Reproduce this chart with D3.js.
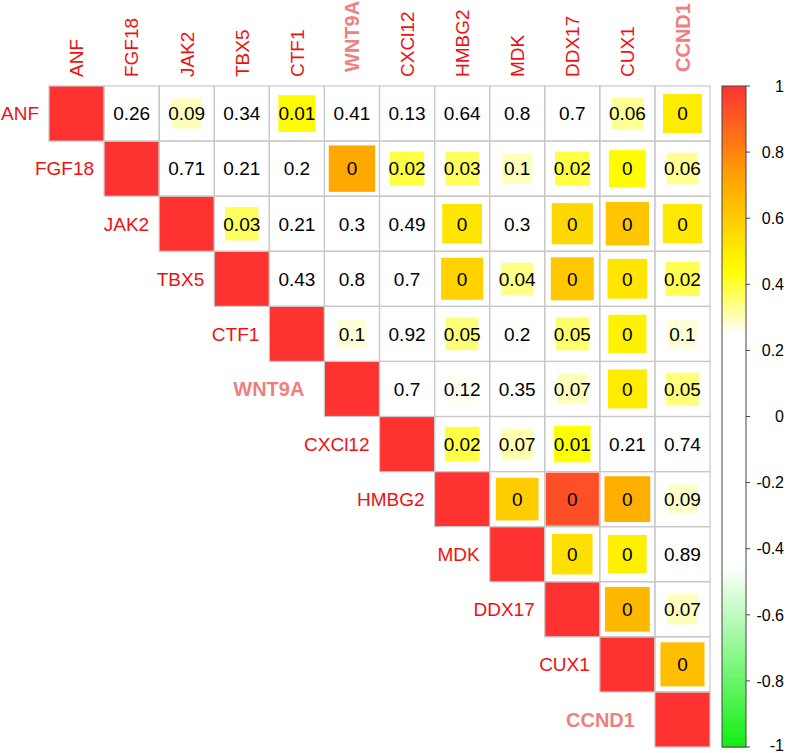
<!DOCTYPE html>
<html>
<head>
<meta charset="utf-8">
<script src="https://cdn.jsdelivr.net/npm/d3@7"></script>
<style>
  html, body { margin: 0; padding: 0; background: #fff; }
  svg { display: block; font-family: "Liberation Sans", Arial, Helvetica, sans-serif; }
</style>
</head>
<body>
<svg id="chart" width="789" height="753"></svg>
<script>
// ---- data ----
const genes = ["ANF","FGF18","JAK2","TBX5","CTF1","WNT9A","CXCl12","HMBG2","MDK","DDX17","CUX1","CCND1"];
const highlightGenes = ["WNT9A","CCND1"];

// upper-triangle correlation estimates, row by row (columns to the right of the diagonal)
const corrRows = [
  [0.20, 0.30, 0.18, 0.45, 0.16, 0.24, 0.09, 0.05, 0.07, 0.33, 0.50],
  [0.07, 0.22, 0.23, 0.71, 0.39, 0.37, 0.30, 0.39, 0.45, 0.33],
  [0.37, 0.21, 0.18, 0.12, 0.52, 0.18, 0.56, 0.62, 0.51],
  [0.14, 0.04, 0.07, 0.58, 0.34, 0.61, 0.52, 0.38],
  [0.28, 0.02, 0.35, 0.20, 0.36, 0.48, 0.28],
  [0.07, 0.26, 0.15, 0.30, 0.50, 0.35],
  [0.39, 0.31, 0.44, 0.21, 0.06],
  [0.60, 0.93, 0.69, 0.29],
  [0.54, 0.49, 0.03],
  [0.66, 0.30],
  [0.64]
];

// p-value labels shown in the cells
const pRows = [
  ["0.26","0.09","0.34","0.01","0.41","0.13","0.64","0.8","0.7","0.06","0"],
  ["0.71","0.21","0.2","0","0.02","0.03","0.1","0.02","0","0.06"],
  ["0.03","0.21","0.3","0.49","0","0.3","0","0","0"],
  ["0.43","0.8","0.7","0","0.04","0","0","0.02"],
  ["0.1","0.92","0.05","0.2","0.05","0","0.1"],
  ["0.7","0.12","0.35","0.07","0","0.05"],
  ["0.02","0.07","0.01","0.21","0.74"],
  ["0","0","0","0.09"],
  ["0","0","0.89"],
  ["0","0.07"],
  ["0"]
];

const legendTicks = [-1,-0.8,-0.6,-0.4,-0.2,0,0.2,0.4,0.6,0.8,1];
const legendTickLabels = ["-1","-0.8","-0.6","-0.4","-0.2","0","0.2","0.4","0.6","0.8","1"];

// ---- build cells ----
const cells = [];
genes.forEach((g, i) => {
  cells.push({row: g, col: g, r: 1, p: null, diag: true});
  (corrRows[i] || []).forEach((r, k) => {
    const j = i + 1 + k;
    cells.push({row: g, col: genes[j], r: r, p: pRows[i][k], diag: false});
  });
});

// ---- scales ----
const svg = d3.select("#chart");
const x = d3.scaleBand().domain(genes).range([49, 710]).padding(0);
const y = d3.scaleBand().domain(genes).range([86, 747]).padding(0);
const bw = x.bandwidth();

const color = d3.scaleLinear()
  .domain([-1, -0.45, 0.25, 0.44, 0.72, 1])
  .range(["#11EE11", "#FFFFFF", "#FFFFFF", "#FFFF00", "#FFA500", "#FF3232"])
  .interpolate(d3.interpolateRgb);

const sideScale = d3.scaleSqrt().domain([0, 1]).range([0, bw]);

// ---- squares ----
const g = svg.append("g");
g.selectAll("rect.sq").data(cells).enter().append("rect")
  .attr("class", "sq")
  .attr("x", d => x(d.col) + (bw - sideScale(Math.abs(d.r))) / 2)
  .attr("y", d => y(d.row) + (bw - sideScale(Math.abs(d.r))) / 2)
  .attr("width", d => sideScale(Math.abs(d.r)))
  .attr("height", d => sideScale(Math.abs(d.r)))
  .attr("fill", d => color(d.r));

// ---- grid ----
g.selectAll("rect.grid").data(cells).enter().append("rect")
  .attr("class", "grid")
  .attr("x", d => x(d.col))
  .attr("y", d => y(d.row))
  .attr("width", bw)
  .attr("height", bw)
  .attr("fill", "none")
  .attr("stroke", "#C8C8C8")
  .attr("stroke-width", 1.2);

// ---- p-value text ----
g.selectAll("text.pv").data(cells.filter(d => !d.diag)).enter().append("text")
  .attr("class", "pv")
  .attr("x", d => x(d.col) + bw / 2)
  .attr("y", d => y(d.row) + bw / 2)
  .attr("dy", "0.36em")
  .attr("text-anchor", "middle")
  .attr("font-size", 19)
  .attr("fill", "#000")
  .text(d => d.p);

// ---- row labels ----
const isHi = gname => highlightGenes.includes(gname);
svg.append("g").selectAll("text").data(genes).enter().append("text")
  .attr("x", d => x(d) - (isHi(d) ? 20 : 10))
  .attr("y", d => y(d) + bw / 2)
  .attr("dy", "0.36em")
  .attr("text-anchor", "end")
  .attr("font-size", d => isHi(d) ? 20 : 19)
  .attr("font-weight", d => isHi(d) ? "bold" : "normal")
  .attr("fill", d => isHi(d) ? "#F08080" : "#EE1111")
  .text(d => d);

// ---- column labels ----
svg.append("g").selectAll("text").data(genes).enter().append("text")
  .attr("transform", d => `translate(${x(d) + bw / 2},${86 - (isHi(d) ? 14 : 9)}) rotate(-90)`)
  .attr("dy", "0.36em")
  .attr("text-anchor", "start")
  .attr("font-size", d => isHi(d) ? 20 : 19)
  .attr("font-weight", d => isHi(d) ? "bold" : "normal")
  .attr("fill", d => isHi(d) ? "#F08080" : "#EE1111")
  .text(d => d);

// ---- colour legend ----
const ly = d3.scaleLinear().domain([1, -1]).range([86, 747]);
const nBands = 140;
const bands = d3.range(nBands).map(k => -1 + (k + 0.5) * 2 / nBands);
const lg = svg.append("g");
lg.selectAll("rect").data(bands).enter().append("rect")
  .attr("x", 722)
  .attr("width", 24)
  .attr("y", v => ly(v + 1 / nBands))
  .attr("height", v => ly(v - 1 / nBands) - ly(v + 1 / nBands) + 0.6)
  .attr("fill", v => color(v));
lg.append("rect")
  .attr("x", 722).attr("y", 86).attr("width", 24).attr("height", 661)
  .attr("fill", "none").attr("stroke", "#444").attr("stroke-width", 1);
lg.selectAll("line.tk").data(legendTicks).enter().append("line")
  .attr("class", "tk")
  .attr("x1", 746).attr("x2", 750)
  .attr("y1", v => ly(v)).attr("y2", v => ly(v))
  .attr("stroke", "#444").attr("stroke-width", 1);
lg.selectAll("text").data(legendTicks).enter().append("text")
  .attr("x", 784)
  .attr("y", v => Math.min(ly(v), 745))
  .attr("dy", "0.36em")
  .attr("text-anchor", "end")
  .attr("font-size", 16)
  .attr("fill", "#000")
  .text((v, i) => legendTickLabels[i]);
</script>
</body>
</html>
